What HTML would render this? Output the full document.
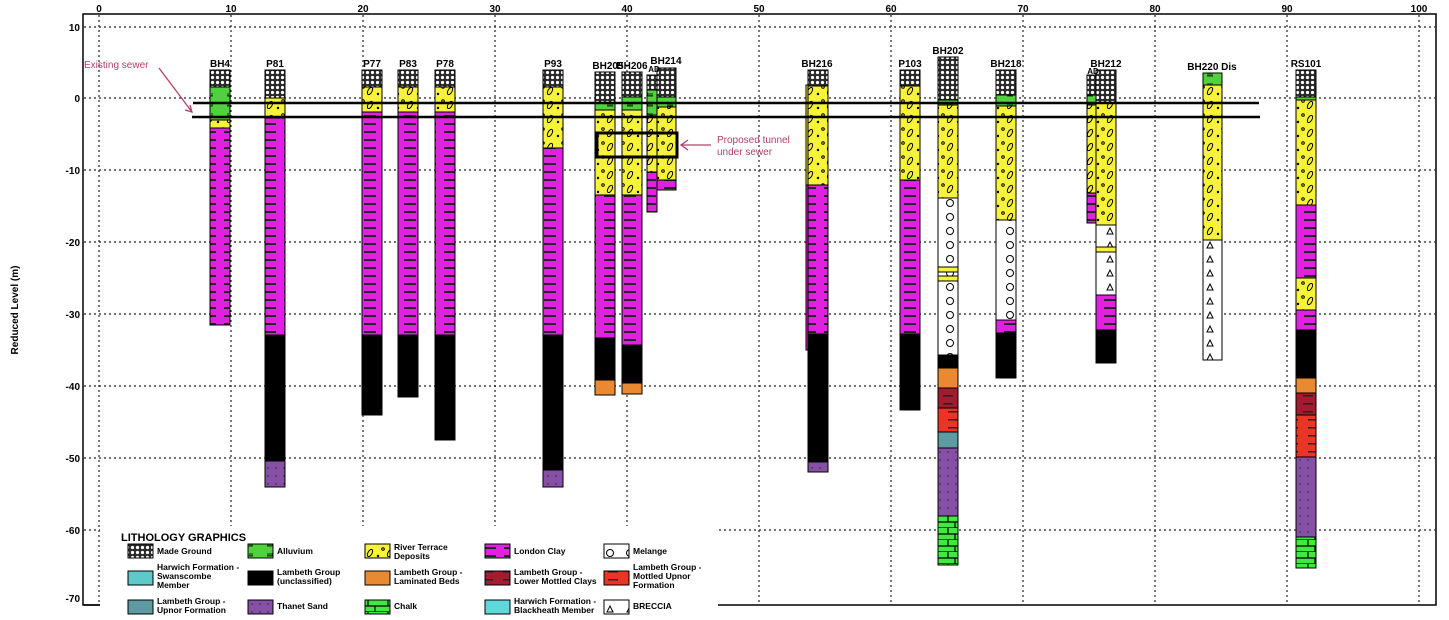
<!DOCTYPE html>
<html><head><meta charset="utf-8"><style>
html,body{margin:0;padding:0;background:#fff;}
svg{display:block;font-family:"Liberation Sans",sans-serif;}
.t{font-size:10px;font-weight:bold;fill:#000;}
.l{font-size:8.5px;font-weight:bold;fill:#000;}
.g{stroke:#222;stroke-width:1.2;stroke-dasharray:2,3;}
.c rect{stroke:#000;stroke-width:1;}
</style></head><body>
<svg width="1449" height="620" viewBox="0 0 1449 620" xmlns="http://www.w3.org/2000/svg">
<defs>
<pattern id="mg" width="5" height="5" patternUnits="userSpaceOnUse"><rect width="5" height="5" fill="#2a2a2a"/><circle cx="2.5" cy="2.5" r="1.6" fill="#fff"/></pattern>
<pattern id="lc" width="20" height="8" patternUnits="userSpaceOnUse"><rect width="20" height="8" fill="#e022e0"/><rect x="4" y="3" width="12" height="2" fill="#222"/></pattern>
<pattern id="rt" width="20" height="14" patternUnits="userSpaceOnUse"><rect width="20" height="14" fill="#f7f23a"/><ellipse cx="10" cy="7" rx="2" ry="4" transform="rotate(30 10 7)" fill="none" stroke="#000" stroke-width="1"/><circle cx="3" cy="3" r="1.3" fill="none" stroke="#000"/><circle cx="18" cy="10" r="1.2" fill="#000"/></pattern>
<pattern id="al" width="20" height="10" patternUnits="userSpaceOnUse"><rect width="20" height="10" fill="#52d13e"/><path d="M7 6h6M8 6v-3M10 6v-3M12 6v-3" stroke="#000" stroke-width="0.8"/></pattern>
<pattern id="mel" width="20" height="14" patternUnits="userSpaceOnUse"><rect width="20" height="14" fill="#fff"/><circle cx="10" cy="7" r="3.5" fill="none" stroke="#000" stroke-width="1"/></pattern>
<pattern id="br" width="20" height="14" patternUnits="userSpaceOnUse"><rect width="20" height="14" fill="#fff"/><path d="M7 10l3-6 3 6z" fill="none" stroke="#000" stroke-width="1"/></pattern>
<pattern id="ch" width="20" height="12" patternUnits="userSpaceOnUse"><rect width="20" height="12" fill="#40e840"/><path d="M0 6h20M0 12h20M8 0v6M15 6v6" stroke="#000" stroke-width="1.2"/></pattern>
<pattern id="ts" width="8" height="8" patternUnits="userSpaceOnUse"><rect width="8" height="8" fill="#8650a6"/><circle cx="4" cy="4" r="0.7" fill="#222"/></pattern>
<pattern id="dr" width="20" height="8" patternUnits="userSpaceOnUse"><rect width="20" height="8" fill="#a41a2e"/><rect x="3" y="3" width="10" height="1.5" fill="#222"/></pattern>
<pattern id="rd" width="20" height="8" patternUnits="userSpaceOnUse"><rect width="20" height="8" fill="#ea3424"/><rect x="8" y="3" width="10" height="1.5" fill="#222"/></pattern>
</defs>

<rect x="83" y="14" width="1353" height="591" fill="#fff" stroke="#000" stroke-width="1.5"/>
<g class="g">
<line x1="99" y1="15" x2="99" y2="604"/><line x1="231" y1="15" x2="231" y2="604"/><line x1="363" y1="15" x2="363" y2="604"/><line x1="495" y1="15" x2="495" y2="604"/><line x1="627" y1="15" x2="627" y2="604"/><line x1="759" y1="15" x2="759" y2="604"/><line x1="891" y1="15" x2="891" y2="604"/><line x1="1023" y1="15" x2="1023" y2="604"/><line x1="1155" y1="15" x2="1155" y2="604"/><line x1="1287" y1="15" x2="1287" y2="604"/><line x1="1419" y1="15" x2="1419" y2="604"/>
<line x1="84" y1="27" x2="1435" y2="27"/><line x1="84" y1="98" x2="1435" y2="98"/><line x1="84" y1="170" x2="1435" y2="170"/><line x1="84" y1="242" x2="1435" y2="242"/><line x1="84" y1="314" x2="1435" y2="314"/><line x1="84" y1="386" x2="1435" y2="386"/><line x1="84" y1="458" x2="1435" y2="458"/><line x1="84" y1="530" x2="1435" y2="530"/>
</g>
<g class="t" text-anchor="middle">
<text x="99" y="12">0</text><text x="231" y="12">10</text><text x="363" y="12">20</text><text x="495" y="12">30</text><text x="627" y="12">40</text><text x="759" y="12">50</text><text x="891" y="12">60</text><text x="1023" y="12">70</text><text x="1155" y="12">80</text><text x="1287" y="12">90</text><text x="1419" y="12">100</text>
</g>
<g class="t" text-anchor="end">
<text x="80" y="31">10</text><text x="80" y="102">0</text><text x="80" y="174">-10</text><text x="80" y="246">-20</text><text x="80" y="318">-30</text><text x="80" y="390">-40</text><text x="80" y="462">-50</text><text x="80" y="534">-60</text><text x="80" y="602">-70</text>
</g>
<text class="t" transform="translate(18,310) rotate(-90)" text-anchor="middle">Reduced Level (m)</text>

<g class="c">
<rect x="210" y="70" width="20" height="17" fill="url(#mg)"/><rect x="210" y="87" width="20" height="33" fill="url(#al)"/><rect x="210" y="120" width="20" height="8" fill="url(#rt)"/><rect x="210" y="128" width="20" height="197" fill="url(#lc)"/>
<rect x="265" y="70" width="20" height="28" fill="url(#mg)"/><rect x="265" y="98" width="20" height="20" fill="url(#rt)"/><rect x="265" y="118" width="20" height="217" fill="url(#lc)"/><rect x="265" y="335" width="20" height="126" fill="#000"/><rect x="265" y="461" width="20" height="26" fill="url(#ts)"/>
<rect x="362" y="70" width="20" height="17" fill="url(#mg)"/><rect x="362" y="87" width="20" height="25" fill="url(#rt)"/><rect x="362" y="112" width="20" height="223" fill="url(#lc)"/><rect x="362" y="335" width="20" height="80" fill="#000"/>
<rect x="398" y="70" width="20" height="17" fill="url(#mg)"/><rect x="398" y="87" width="20" height="25" fill="url(#rt)"/><rect x="398" y="112" width="20" height="223" fill="url(#lc)"/><rect x="398" y="335" width="20" height="62" fill="#000"/>
<rect x="435" y="70" width="20" height="17" fill="url(#mg)"/><rect x="435" y="87" width="20" height="25" fill="url(#rt)"/><rect x="435" y="112" width="20" height="223" fill="url(#lc)"/><rect x="435" y="335" width="20" height="105" fill="#000"/>
<rect x="543" y="70" width="20" height="17" fill="url(#mg)"/><rect x="543" y="87" width="20" height="61" fill="url(#rt)"/><rect x="543" y="148" width="20" height="187" fill="url(#lc)"/><rect x="543" y="335" width="20" height="135" fill="#000"/><rect x="543" y="470" width="20" height="17" fill="url(#ts)"/>
<rect x="595" y="72" width="20" height="31" fill="url(#mg)"/><rect x="595" y="103" width="20" height="7" fill="url(#al)"/><rect x="595" y="110" width="20" height="85" fill="url(#rt)"/><rect x="595" y="195" width="20" height="143" fill="url(#lc)"/><rect x="595" y="338" width="20" height="42" fill="#000"/><rect x="595" y="380" width="20" height="15" fill="#e98a32"/>
<rect x="622" y="72" width="20" height="25" fill="url(#mg)"/><rect x="622" y="97" width="20" height="13" fill="url(#al)"/><rect x="622" y="110" width="20" height="85" fill="url(#rt)"/><rect x="622" y="195" width="20" height="150" fill="url(#lc)"/><rect x="622" y="345" width="20" height="38" fill="#000"/><rect x="622" y="383" width="20" height="11" fill="#e98a32"/>
<rect x="647" y="75" width="10" height="15" fill="url(#mg)"/><rect x="647" y="90" width="10" height="25" fill="url(#al)"/><rect x="647" y="115" width="10" height="57" fill="url(#rt)"/><rect x="647" y="172" width="10" height="40" fill="url(#lc)"/>
<rect x="657" y="68" width="19" height="29" fill="url(#mg)"/><rect x="657" y="97" width="19" height="10" fill="url(#al)"/><rect x="657" y="107" width="19" height="73" fill="url(#rt)"/><rect x="657" y="180" width="19" height="10" fill="url(#lc)"/>
<rect x="806" y="85" width="6" height="100" fill="#f7f23a"/><rect x="806" y="185" width="6" height="165" fill="#e022e0"/>
<rect x="808" y="70" width="20" height="16" fill="url(#mg)"/><rect x="808" y="86" width="20" height="99" fill="url(#rt)"/><rect x="808" y="185" width="20" height="149" fill="url(#lc)"/><rect x="808" y="334" width="20" height="128" fill="#000"/><rect x="808" y="462" width="20" height="10" fill="url(#ts)"/>
<rect x="900" y="70" width="20" height="16" fill="url(#mg)"/><rect x="900" y="86" width="20" height="94" fill="url(#rt)"/><rect x="900" y="180" width="20" height="154" fill="url(#lc)"/><rect x="900" y="334" width="20" height="76" fill="#000"/>
<rect x="938" y="57" width="20" height="43" fill="url(#mg)"/><rect x="938" y="100" width="20" height="5" fill="url(#al)"/><rect x="938" y="105" width="20" height="93" fill="url(#rt)"/><rect x="938" y="198" width="20" height="157" fill="url(#mel)"/><rect x="938" y="267" width="20" height="5" fill="#f7f23a"/><rect x="938" y="276" width="20" height="5" fill="#f7f23a"/><rect x="938" y="355" width="20" height="13" fill="#000"/><rect x="938" y="368" width="20" height="20" fill="#e98a32"/><rect x="938" y="388" width="20" height="20" fill="url(#dr)"/><rect x="938" y="408" width="20" height="24" fill="url(#rd)"/><rect x="938" y="432" width="20" height="16" fill="#5e9aa2"/><rect x="938" y="448" width="20" height="68" fill="url(#ts)"/><rect x="938" y="516" width="20" height="49" fill="url(#ch)"/>
<rect x="996" y="70" width="20" height="25" fill="url(#mg)"/><rect x="996" y="95" width="20" height="11" fill="url(#al)"/><rect x="996" y="106" width="20" height="114" fill="url(#rt)"/><rect x="996" y="220" width="20" height="100" fill="url(#mel)"/><rect x="996" y="320" width="20" height="13" fill="url(#lc)"/><rect x="996" y="333" width="20" height="45" fill="#000"/>
<rect x="1087" y="75" width="9" height="20" fill="url(#mg)"/><rect x="1087" y="95" width="9" height="10" fill="url(#al)"/><rect x="1087" y="105" width="9" height="88" fill="url(#rt)"/><rect x="1087" y="193" width="9" height="30" fill="url(#lc)"/>
<rect x="1096" y="70" width="20" height="33" fill="url(#mg)"/><rect x="1096" y="103" width="20" height="122" fill="url(#rt)"/><rect x="1096" y="225" width="20" height="70" fill="url(#br)"/><rect x="1096" y="247" width="20" height="5" fill="#f7f23a"/><rect x="1096" y="295" width="20" height="35" fill="url(#lc)"/><rect x="1096" y="330" width="20" height="33" fill="#000"/>
<rect x="1203" y="73" width="19" height="12" fill="url(#al)"/><rect x="1203" y="85" width="19" height="155" fill="url(#rt)"/><rect x="1203" y="240" width="19" height="120" fill="url(#br)"/>
<rect x="1296" y="70" width="20" height="27" fill="url(#mg)"/><rect x="1296" y="97" width="20" height="3" fill="#52d13e"/><rect x="1296" y="100" width="20" height="105" fill="url(#rt)"/><rect x="1296" y="205" width="20" height="73" fill="url(#lc)"/><rect x="1296" y="278" width="20" height="32" fill="url(#rt)"/><rect x="1296" y="310" width="20" height="20" fill="url(#lc)"/><rect x="1296" y="330" width="20" height="48" fill="#000"/><rect x="1296" y="378" width="20" height="15" fill="#e98a32"/><rect x="1296" y="393" width="20" height="22" fill="url(#dr)"/><rect x="1296" y="415" width="20" height="42" fill="url(#rd)"/><rect x="1296" y="457" width="20" height="80" fill="url(#ts)"/><rect x="1296" y="537" width="20" height="31" fill="url(#ch)"/>
</g>

<g class="t" font-size="9" text-anchor="middle">
<text x="220" y="67">BH4</text><text x="275" y="67">P81</text><text x="372" y="67">P77</text><text x="408" y="67">P83</text><text x="445" y="67">P78</text><text x="553" y="67">P93</text>
<text x="608" y="69">BH205</text><text x="632" y="69">BH206</text><text x="666" y="64">BH214</text><text x="654" y="72" font-size="8">AD</text>
<text x="817" y="67">BH216</text><text x="910" y="67">P103</text><text x="948" y="54">BH202</text><text x="1006" y="67">BH218</text><text x="1106" y="67">BH212</text><text x="1093" y="74" font-size="8">AD</text><text x="1212" y="70">BH220 Dis</text><text x="1306" y="67">RS101</text>
</g>

<line x1="193" y1="103" x2="1259" y2="103" stroke="#000" stroke-width="2.5"/>
<line x1="192" y1="117" x2="1260" y2="117" stroke="#000" stroke-width="2.5"/>
<rect x="597" y="133" width="80" height="24" fill="none" stroke="#000" stroke-width="3"/>
<text x="84" y="68" font-size="10" fill="#b4406a">Existing sewer</text>
<path d="M159 68 L192 112 M185 110 L192 112 L190 105" stroke="#b4406a" stroke-width="1.3" fill="none"/>
<text x="717" y="143" font-size="10" fill="#b4406a">Proposed tunnel</text>
<text x="717" y="155" font-size="10" fill="#b4406a">under sewer</text>
<path d="M711 145 H682 M688 140 L681 145 L688 150" stroke="#b4406a" stroke-width="1.3" fill="none"/>

<rect x="100" y="526" width="618" height="94" fill="#fff"/>
<line x1="84" y1="605" x2="100" y2="605" stroke="#000" stroke-width="1.5"/>
<text x="121" y="541" font-size="11" font-weight="bold">LITHOLOGY GRAPHICS</text>
<g stroke="#000" stroke-width="1">
<rect x="128" y="544" width="25" height="14" fill="url(#mg)"/>
<rect x="248" y="544" width="25" height="14" fill="url(#al)"/>
<rect x="365" y="544" width="25" height="14" fill="url(#rt)"/>
<rect x="485" y="544" width="25" height="14" fill="url(#lc)"/>
<rect x="604" y="544" width="25" height="14" fill="url(#mel)"/>
<rect x="128" y="571" width="25" height="14" fill="#5fc8c8"/>
<rect x="248" y="571" width="25" height="14" fill="#000"/>
<rect x="365" y="571" width="25" height="14" fill="#e98a32"/>
<rect x="485" y="571" width="25" height="14" fill="url(#dr)"/>
<rect x="604" y="571" width="25" height="14" fill="url(#rd)"/>
<rect x="128" y="600" width="25" height="14" fill="#5e9aa2"/>
<rect x="248" y="600" width="25" height="14" fill="url(#ts)"/>
<rect x="365" y="600" width="25" height="14" fill="url(#ch)"/>
<rect x="485" y="600" width="25" height="14" fill="#5fd8dc"/>
<rect x="604" y="600" width="25" height="14" fill="url(#br)"/>
</g>
<g class="l">
<text x="157" y="554">Made Ground</text>
<text x="277" y="554">Alluvium</text>
<text x="394" y="550">River Terrace</text><text x="394" y="559">Deposits</text>
<text x="514" y="554">London Clay</text>
<text x="633" y="554">Melange</text>
<text x="157" y="570">Harwich Formation -</text><text x="157" y="579">Swanscombe</text><text x="157" y="588">Member</text>
<text x="277" y="575">Lambeth Group</text><text x="277" y="584">(unclassified)</text>
<text x="394" y="575">Lambeth Group -</text><text x="394" y="584">Laminated Beds</text>
<text x="514" y="575">Lambeth Group -</text><text x="514" y="584">Lower Mottled Clays</text>
<text x="633" y="570">Lambeth Group -</text><text x="633" y="579">Mottled Upnor</text><text x="633" y="588">Formation</text>
<text x="157" y="604">Lambeth Group -</text><text x="157" y="613">Upnor Formation</text>
<text x="277" y="609">Thanet Sand</text>
<text x="394" y="609">Chalk</text>
<text x="514" y="604">Harwich Formation -</text><text x="514" y="613">Blackheath Member</text>
<text x="633" y="609">BRECCIA</text>
</g>
</svg>
</body></html>
